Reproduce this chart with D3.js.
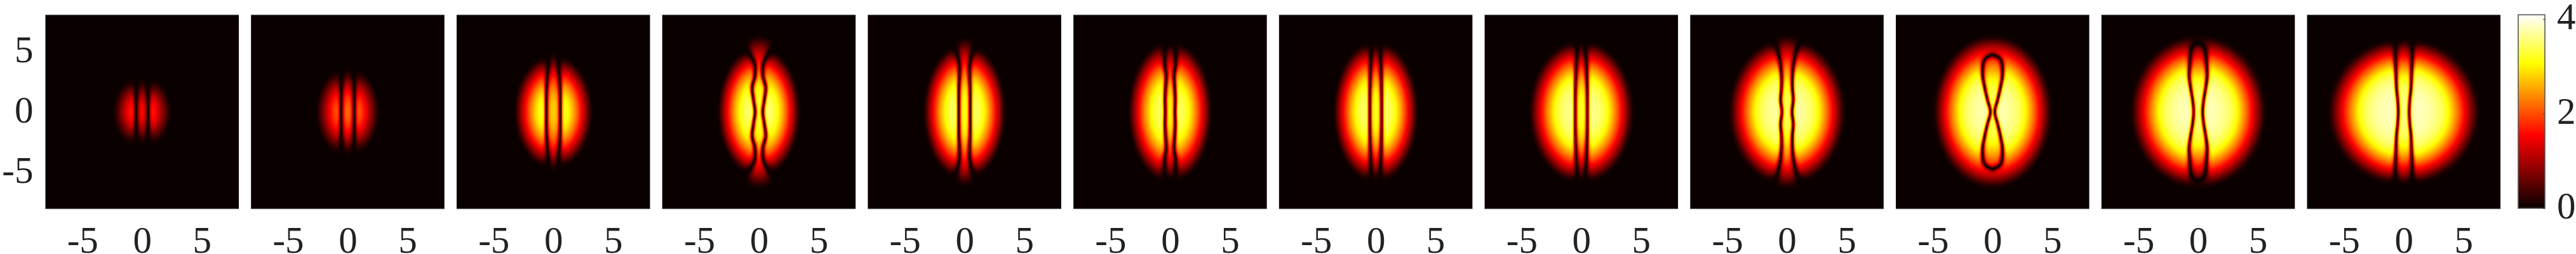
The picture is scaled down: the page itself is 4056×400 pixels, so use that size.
<!DOCTYPE html>
<html><head><meta charset="utf-8">
<script src="https://cdn.jsdelivr.net/npm/d3@7"></script>
<style>html,body{margin:0;padding:0;background:#fff;overflow:hidden}svg{display:block}text{font-family:"Liberation Serif",serif;fill:#222}</style>
</head><body><div id="chart"></div>
<script>
// values, one entry per panel (axis units)
const envelopeWidth  = [2.55,2.7,3.25,3.4,3.4,3.45,3.5,4.3,4.8,4.9,5.6,6.25];
const envelopeHeight = [3.1,3.8,4.7,5.35,5.6,5.8,5.8,5.85,6.0,6.25,6.25,6.0];
const innerExtent    = [2.95,3.75,5.05,6.25,6.1,5.75,5.8,5.85,6.3,6.25,6.05,6.0];
const edgePower      = [1.7,1.5,1.2,1.1,1.1,1.1,1.1,1.1,1.1,1.1,1.1,1.1];
const peakDensity    = [2.2,2.55,3.7,4.05,4.05,3.95,4.1,4.35,4.55,4.65,4.85,5.0];
const innerGain      = [0.72,0.85,0.75,0.85,0.8,0.8,0.8,0.76,0.8,0.82,0.82,0.82];
// dark node line: half-separation |x| at heights |y|
const nodeSep = [
 [.5,.5,.5,.48],
 [.54,.54,.54,.52,.5],
 [.58,.58,.56,.5,.42,.38,.36],
 [.32,.45,.56,.33,.36,.85,1.6,2.4],
 [.47,.47,.46,.42,.44,.66,1.0,1.6],
 [.40,.42,.38,.33,.45,.46,.38,.2,0],
 [.49,.49,.48,.46,.42,.38,.34,.3],
 [.5,.5,.49,.46,.42,.36,.33,.3],
 [.42,.52,.45,.45,.55,.75,1.1,1.5],
 [.18,.42,.65,.82,.78,.52,0],
 [.37,.46,.63,.75,.7,.63,.45,0],
 [.45,.5,.6,.66,.7,.7,.7,.7]
];
const nodeHeight = [
 [0,1,2,3],
 [0,1,2,3,4],
 [0,1,2,3,4,5,6],
 [0,1,2,3,4,5,6,7],
 [0,1,2,3,4,5,6,7],
 [0,1,2,3,4,5,5.4,5.7,5.85],
 [0,1,2,3,4,5,6,7],
 [0,1,2,3,4,5,6,7],
 [0,1,2,3,4,5,6,7],
 [0,1,2,3,4,4.5,4.75],
 [0,1,2,3,4,5,5.5,5.85],
 [0,1,2,3.5,5,6,7,8]
];
const xTicks = [-5,0,5];
const yTicks = [-5,0,5];
const barTicks = [0,2,4];
const hotStops = [0,0.375,0.75,1];
const hotColors = ["#0a0000","#ff0000","#ffff00","#ffffff"];
const densityMax = 4.09;

const W=4056,H=400, firstLeft=71.5, panelW=304.5, step=323.73, panelTop=23.3, panelBottom=329;
const color=d3.scaleLinear().domain(hotStops.map(d=>d*densityMax)).range(hotColors).clamp(true);

const svg=d3.select("#chart").append("svg").attr("width",W).attr("height",H);
svg.append("rect").attr("width",W).attr("height",H).attr("fill","#fff");

function smoothCurve(sep,hgt){
  const pts=sep.map((s,i)=>[s,hgt[i]]), out=[];
  const get=i=>{
    if(i<0) return [pts[-i][0],-pts[-i][1]];
    if(i>=pts.length){const a=pts[pts.length-1],b=pts[pts.length-2];return [a[0]*2-b[0],a[1]*2-b[1]];}
    return pts[i];
  };
  for(let i=0;i<pts.length-1;i++){
    const p0=get(i-1),p1=get(i),p2=get(i+1),p3=get(i+2);
    for(let k=0;k<8;k++){
      const t=k/8,t2=t*t,t3=t2*t;
      const f=j=>.5*(2*p1[j]+(p2[j]-p0[j])*t+(2*p0[j]-5*p1[j]+4*p2[j]-p3[j])*t2+(3*p1[j]-p0[j]-3*p2[j]+p3[j])*t3);
      out.push([Math.max(f(0),0),f(1)]);
    }
  }
  out.push(pts[pts.length-1]);
  return out;
}
function segDist(px,py,a,b){
  const dx=b[0]-a[0],dy=b[1]-a[1],l=dx*dx+dy*dy;
  let t=l>0?((px-a[0])*dx+(py-a[1])*dy)/l:0; t=Math.max(0,Math.min(1,t));
  return Math.hypot(px-a[0]-t*dx,py-a[1]-t*dy);
}
function profile(q,p){
  return Math.pow(0.035*Math.log(1+Math.exp(Math.min((1-q)/0.035,40))),p);
}
function compress(v){
  const c=2.9,span=1.15;
  return v<=c?v:c+span*(1-Math.exp(-(v-c)/span));
}
function density(i,curve,ux,uy){
  const a=envelopeWidth[i],b=envelopeHeight[i],bi=innerExtent[i],A=peakDensity[i],g=innerGain[i],p=edgePower[i];
  let d=1e9; for(let k=0;k<curve.length-1;k++){d=Math.min(d,segDist(ux,uy,curve[k],curve[k+1]));}
  let s=0,found=false;
  for(let k=0;k<curve.length-1;k++){
    const m=curve[k],n=curve[k+1];
    if(uy>=m[1]&&uy<=n[1]){s=m[0]+(n[0]-m[0])*(n[1]>m[1]?(uy-m[1])/(n[1]-m[1]):0);found=true;break;}
  }
  const inside=found&&ux<s;
  const q=ux*ux/(a*a);
  const eo=A*profile(q+uy*uy/(b*b),p), ei=g*A*profile(q+uy*uy/(bi*bi),p);
  const tt=Math.max(0,Math.min(1,((inside?-d:d)+0.1)/0.2));
  const e=compress(ei+(eo-ei)*tt*tt*(3-2*tt));
  const w=0.13/Math.sqrt(Math.max(e/4,0.08));
  const th=Math.tanh(d/w);
  return e*(0.04+0.96*th*th);
}
function panelImage(i,w,h,x,y){
  const c=document.createElement("canvas");c.width=w;c.height=h;
  const ctx=c.getContext("2d"),img=ctx.createImageData(w,h);
  const curve=smoothCurve(nodeSep[i],nodeHeight[i]);
  const cache=new Float32Array(w*h);
  for(let r=0;r<h;r++)for(let q=0;q<w;q++){
    const r2=h-1-r,q2=w-1-q;
    if(r2<r||q2<q){cache[r*w+q]=cache[Math.min(r,r2)*w+Math.min(q,q2)];continue;}
    cache[r*w+q]=density(i,curve,Math.abs(x.invert(x.range()[0]+q+.5)),Math.abs(y.invert(y.range()[1]+r+.5)));
  }
  for(let k=0;k<w*h;k++){
    const col=d3.rgb(color(cache[k]));
    img.data[4*k]=col.r;img.data[4*k+1]=col.g;img.data[4*k+2]=col.b;img.data[4*k+3]=255;
  }
  ctx.putImageData(img,0,0);
  return c.toDataURL();
}
function styleAxis(g,size){
  g.select(".domain").remove();
  g.selectAll("line").remove();
  g.selectAll("text").attr("font-size",size).attr("fill","#222");
}
envelopeWidth.forEach((_,i)=>{
  const left=firstLeft+i*step;
  const x=d3.scaleLinear().domain([-8.1,8.1]).range([left,left+panelW]);
  const y=d3.scaleLinear().domain([-8.05,8.05]).range([panelBottom,panelTop]);
  const w=Math.round(panelW),h=Math.round(panelBottom-panelTop);
  const g=svg.append("g").attr("class","panel");
  g.append("image").attr("x",left).attr("y",panelTop).attr("width",panelW).attr("height",panelBottom-panelTop)
   .attr("preserveAspectRatio","none").attr("href",panelImage(i,w,h,x,y));
  g.append("line").attr("x1",left).attr("x2",left+panelW).attr("y1",panelTop).attr("y2",panelTop).attr("stroke","#999").attr("stroke-width",.8);
  g.append("line").attr("x1",left).attr("x2",left+panelW).attr("y1",panelBottom).attr("y2",panelBottom).attr("stroke","#999").attr("stroke-width",.8);
  const ax=g.append("g").attr("transform",`translate(0,${panelBottom})`)
    .call(d3.axisBottom(x).tickValues(xTicks).tickSize(0).tickFormat(d=>String(d)));
  styleAxis(ax,59);
  ax.selectAll("text").attr("y",0).attr("dy",0).attr("transform","translate(0,69)");
  if(i===0){
    const ay=g.append("g").attr("transform",`translate(${left},0)`)
      .call(d3.axisLeft(y).tickValues(yTicks).tickSize(0).tickFormat(d=>String(d)));
    styleAxis(ay,59);
    ay.selectAll("text").attr("x",-19).attr("dy",0).attr("transform","translate(0,16)");
  }
});
// colour bar
const barLeft=3965,barRight=4007,barTop=23.3,barBottom=328;
const barY=d3.scaleLinear().domain([0,densityMax]).range([barBottom,barTop]);
const bc=document.createElement("canvas");bc.width=1;bc.height=305;
const bctx=bc.getContext("2d");
d3.range(305).forEach(r=>{bctx.fillStyle=color(barY.invert(barTop+r+.5));bctx.fillRect(0,r,1,1);});
svg.append("image").attr("x",barLeft).attr("y",barTop).attr("width",barRight-barLeft).attr("height",barBottom-barTop)
  .attr("preserveAspectRatio","none").attr("href",bc.toDataURL());
svg.append("rect").attr("x",barLeft).attr("y",barTop).attr("width",barRight-barLeft).attr("height",barBottom-barTop)
  .attr("fill","none").attr("stroke","#555").attr("stroke-width",1.6);
const bar=svg.append("g").attr("transform",`translate(${barRight},0)`)
  .call(d3.axisRight(barY).tickValues(barTicks).tickSize(0).tickFormat(d=>String(d)));
bar.select(".domain").remove();
bar.selectAll("line").attr("x1",-3).attr("x2",0).attr("stroke","#333").attr("stroke-width",1);
bar.selectAll("text").attr("font-size",59).attr("fill","#222").attr("x",19).attr("dy",0).attr("transform","translate(0,15)");
</script></body></html>
